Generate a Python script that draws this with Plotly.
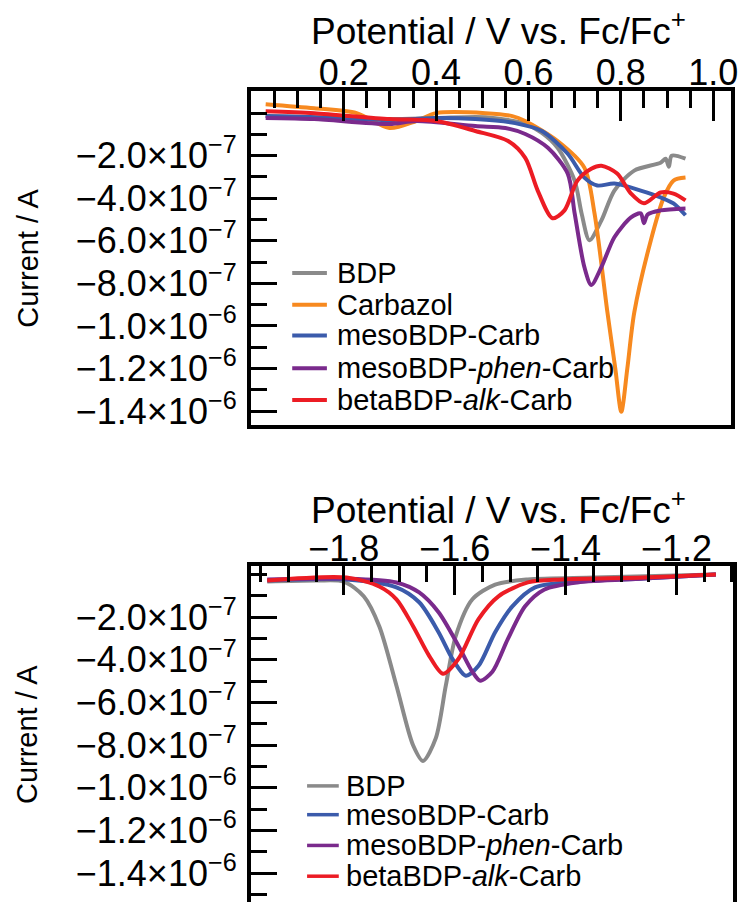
import plotly.graph_objects as go

# ---------------------------------------------------------------------------
# Differential pulse voltammetry, oxidation (top) and reduction (bottom) scans
# Potentials in V vs. Fc/Fc+, currents given in units of 1e-7 A
# ---------------------------------------------------------------------------
UNIT = 1e-7

# Oxidation scan
ox_bdp_v = [0.031, 0.136, 0.299, 0.400, 0.507, 0.593, 0.629, 0.663, 0.700, 0.715,
            0.732, 0.758, 0.786, 0.829, 0.886, 0.897, 0.904, 0.910, 0.940]
ox_bdp_i = [-0.14, -0.19, -0.28, -0.23, -0.19, -0.51, -0.93, -1.63, -3.17, -4.71,
            -5.97, -5.04, -3.64, -2.70, -2.33, -2.14, -2.52, -2.00, -2.14]

ox_carb_v = [0.031, 0.136, 0.228, 0.299, 0.357, 0.400, 0.507, 0.565, 0.593, 0.663,
             0.721, 0.743, 0.771, 0.788, 0.801, 0.814, 0.829, 0.865, 0.893, 0.914,
             0.940]
ox_carb_i = [0.42, 0.23, 0.00, -0.70, -0.37, 0.00, 0.00, -0.14, -0.37, -1.31,
             -2.56, -4.71, -9.37, -12.0, -14.03, -12.0, -9.37, -5.97, -3.96, -3.17,
             -3.03]

ox_meso_v = [0.031, 0.136, 0.299, 0.400, 0.485, 0.571, 0.629, 0.685, 0.721, 0.749,
             0.786, 0.843, 0.886, 0.914, 0.940]
ox_meso_i = [-0.14, -0.19, -0.33, -0.23, -0.28, -0.47, -0.84, -1.91, -3.03, -3.40,
             -3.31, -3.64, -3.96, -4.24, -4.80]

ox_phen_v = [0.031, 0.136, 0.299, 0.357, 0.485, 0.550, 0.593, 0.642, 0.685, 0.700,
             0.721, 0.736, 0.758, 0.786, 0.822, 0.843, 0.850, 0.858, 0.886, 0.940]
ox_phen_i = [-0.23, -0.28, -0.51, -0.37, -0.61, -0.70, -0.98, -1.63, -2.84, -4.71,
             -7.23, -8.07, -7.23, -5.83, -4.90, -4.71, -5.17, -4.76, -4.57, -4.48]

ox_alk_v = [0.031, 0.136, 0.299, 0.400, 0.485, 0.556, 0.593, 0.620, 0.652, 0.678,
            0.706, 0.736, 0.758, 0.792, 0.822, 0.850, 0.886, 0.914, 0.940]
ox_alk_i = [0.09, 0.00, -0.28, -0.37, -0.84, -1.31, -2.10, -3.64, -4.94, -4.57,
            -3.17, -2.61, -2.47, -2.84, -3.78, -4.24, -3.73, -3.78, -4.10]

# Reduction scan
red_bdp_v = [-1.938, -1.848, -1.800, -1.764, -1.736, -1.705, -1.675, -1.657, -1.634,
             -1.616, -1.598, -1.568, -1.527, -1.468, -1.348, -1.129]
red_bdp_i = [-0.33, -0.28, -0.33, -1.02, -2.42, -5.21, -8.00, -8.74, -7.67,
             -5.21, -2.88, -1.16, -0.47, -0.23, -0.14, 0.00]

red_meso_v = [-1.938, -1.795, -1.705, -1.664, -1.629, -1.604, -1.580, -1.557, -1.527,
              -1.496, -1.455, -1.379, -1.259, -1.129]
red_meso_i = [-0.28, -0.23, -0.60, -1.30, -2.70, -3.95, -4.74, -4.28, -2.70,
              -1.49, -0.60, -0.33, -0.19, 0.00]

red_phen_v = [-1.938, -1.795, -1.705, -1.664, -1.629, -1.593, -1.568, -1.554, -1.532,
              -1.504, -1.473, -1.438, -1.379, -1.259, -1.129]
red_phen_i = [-0.23, -0.19, -0.37, -0.84, -1.77, -3.35, -4.56, -4.98, -4.56,
              -3.02, -1.49, -0.70, -0.37, -0.19, 0.00]

red_alk_v = [-1.938, -1.795, -1.736, -1.705, -1.675, -1.646, -1.621, -1.593, -1.557,
             -1.521, -1.468, -1.407, -1.259, -1.129]
red_alk_i = [-0.28, -0.14, -0.56, -1.16, -2.42, -3.81, -4.65, -3.95, -2.09,
             -1.02, -0.37, -0.23, -0.14, 0.00]

# Axis ticks
ox_xticks = [0.2, 0.4, 0.6, 0.8, 1.0]
ox_xticktext = ["0.2", "0.4", "0.6", "0.8", "1.0"]
red_xticks = [-1.8, -1.6, -1.4, -1.2]
red_xticktext = ["−1.8", "−1.6", "−1.4", "−1.2"]
y_ticks = [-2e-7, -4e-7, -6e-7, -8e-7, -1.0e-6, -1.2e-6, -1.4e-6]
y_ticktext = ["−2.0×10<sup>−7</sup>", "−4.0×10<sup>−7</sup>", "−6.0×10<sup>−7</sup>",
              "−8.0×10<sup>−7</sup>", "−1.0×10<sup>−6</sup>", "−1.2×10<sup>−6</sup>",
              "−1.4×10<sup>−6</sup>"]

# Series names and colours
NAME_BDP = "BDP"
NAME_CARB = "Carbazol"
NAME_MESO = "mesoBDP-Carb"
NAME_PHEN = "mesoBDP-<i>phen</i>-Carb"
NAME_ALK = "betaBDP-<i>alk</i>-Carb"

C_BDP = "#8a8a8a"
C_CARB = "#f7891f"
C_MESO = "#3b5bab"
C_PHEN = "#7a2a8c"
C_ALK = "#ec1c24"

W, H = 743, 909
FONT = "Liberation Sans, Arial, Helvetica, sans-serif"


def fx(p):
    """pixel column -> paper x"""
    return p / W


def fy(p):
    """pixel row (from top) -> paper y"""
    return 1 - p / H


fig = go.Figure()


def add(x, y, name, color, xa, ya):
    fig.add_trace(go.Scatter(
        x=x, y=[v * UNIT for v in y], name=name, mode="lines",
        line=dict(color=color, width=4, shape="spline", smoothing=0.8),
        xaxis=xa, yaxis=ya, showlegend=False,
    ))


top_series = [
    (ox_bdp_v, ox_bdp_i, NAME_BDP, C_BDP),
    (ox_carb_v, ox_carb_i, NAME_CARB, C_CARB),
    (ox_meso_v, ox_meso_i, NAME_MESO, C_MESO),
    (ox_phen_v, ox_phen_i, NAME_PHEN, C_PHEN),
    (ox_alk_v, ox_alk_i, NAME_ALK, C_ALK),
]
bottom_series = [
    (red_bdp_v, red_bdp_i, NAME_BDP, C_BDP),
    (red_meso_v, red_meso_i, NAME_MESO, C_MESO),
    (red_phen_v, red_phen_i, NAME_PHEN, C_PHEN),
    (red_alk_v, red_alk_i, NAME_ALK, C_ALK),
]
for xs, ys, nm, col in top_series:
    add(xs, ys, nm, col, "x", "y")
for xs, ys, nm, col in bottom_series:
    add(xs, ys, nm, col, "x2", "y2")

tickfont = dict(family=FONT, size=36, color="black")
axis_common = dict(
    showline=True, linecolor="black", linewidth=3.5,
    ticks="inside", tickcolor="black", tickwidth=3,
    showgrid=False, zeroline=False, tickfont=tickfont,
    fixedrange=True, ticklabeloverflow="allow",
)
minor_x = dict(tickmode="linear", tick0=0, dtick=0.05, ticks="inside",
               ticklen=17, tickwidth=3, tickcolor="black")
minor_y = dict(tickmode="linear", tick0=0, dtick=1e-7, ticks="inside",
               ticklen=17, tickwidth=3, tickcolor="black")

fig.update_layout(
    width=W, height=H,
    margin=dict(l=0, r=0, t=0, b=0),
    paper_bgcolor="white", plot_bgcolor="white",
    font=dict(family=FONT, color="black"),
    showlegend=False,
    xaxis=dict(
        **axis_common, domain=[fx(253), fx(738)], anchor="y", side="top",
        range=[-0.0016, 1.0386], tickmode="array", tickvals=ox_xticks,
        ticktext=ox_xticktext, ticklen=30, mirror=True,
        ticklabelstandoff=-12, minor=minor_x,
    ),
    yaxis=dict(
        **axis_common, domain=[fy(428), fy(92)], anchor="x",
        range=[-1.464e-6, 1.026e-7], tickmode="array", tickvals=y_ticks,
        ticktext=y_ticktext, ticklen=27, mirror=True, ticklabelstandoff=3,
        minor=minor_y,
    ),
    xaxis2=dict(
        **axis_common, domain=[fx(253), fx(740)], anchor="y2", side="top",
        range=[-1.968, -1.098], tickmode="array", tickvals=red_xticks,
        ticktext=red_xticktext, ticklen=30, mirror=False,
        ticklabelstandoff=-14, minor=minor_x,
    ),
    yaxis2=dict(
        **axis_common, domain=[0, fy(570)], anchor="x2",
        range=[-1.535e-6, 0.419e-7], tickmode="array", tickvals=y_ticks,
        ticktext=y_ticktext, ticklen=27, mirror=True, ticklabelstandoff=3,
        minor=minor_y,
    ),
)

# Axis titles
title_font = dict(family=FONT, size=37, color="black")
axis_title = "Potential / V vs. Fc/Fc<sup>+</sup>"
for yc in (29, 511):
    fig.add_annotation(text=axis_title, x=fx(503), y=fy(yc), xref="paper", yref="paper",
                       showarrow=False, font=title_font, xanchor="center",
                       yanchor="middle")
for yc in (260, 740):
    fig.add_annotation(text="Current / A", x=fx(28), y=fy(yc), xref="paper",
                       yref="paper", showarrow=False, textangle=-90,
                       font=dict(family=FONT, size=29, color="black"),
                       xanchor="center", yanchor="middle")


# Legends: a short coloured line followed by the series name
def draw_legend(series, x0, x1, xt, rows, lw):
    for (_, _, nm, col), yr in zip(series, rows):
        fig.add_shape(type="line", xref="paper", yref="paper",
                      x0=fx(x0), x1=fx(x1), y0=fy(yr), y1=fy(yr),
                      line=dict(color=col, width=lw))
        fig.add_annotation(text=nm, x=fx(xt), y=fy(yr), xref="paper", yref="paper",
                           showarrow=False, xanchor="left", yanchor="middle",
                           font=dict(family=FONT, size=29, color="black"))


draw_legend(top_series, 295, 330, 338, [275, 307, 338, 371, 403], 4)
draw_legend(bottom_series, 310, 342, 347, [792, 821, 852, 883], 3.5)

fig.write_html(
    "out.html",
    post_script="document.body.style.margin='0px';"
                "document.documentElement.style.overflow='hidden';",
)
